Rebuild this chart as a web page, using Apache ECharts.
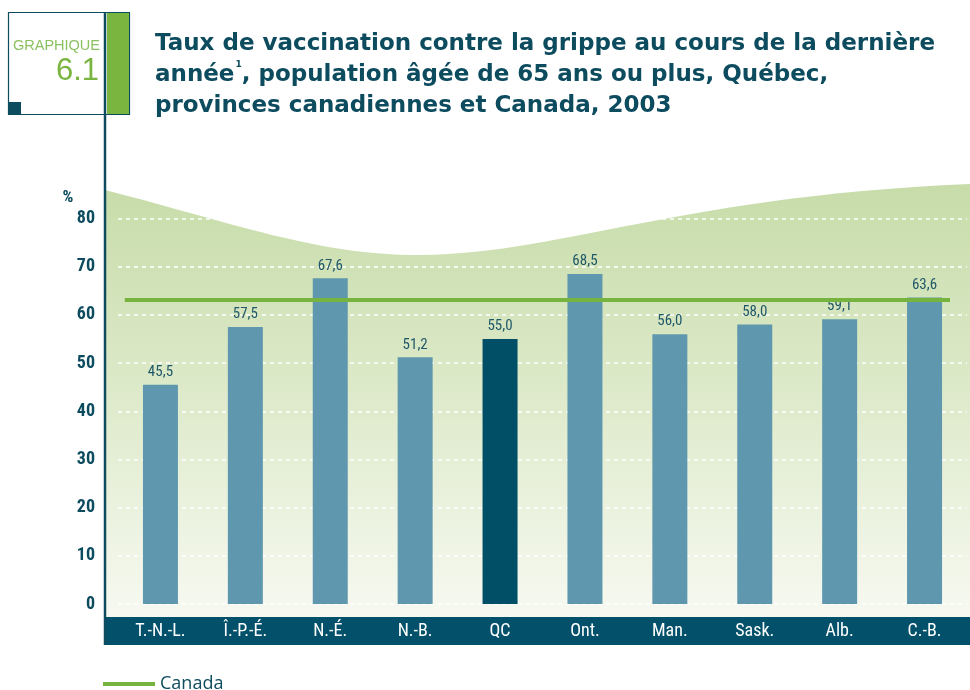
<!DOCTYPE html>
<html>
<head>
<meta charset="utf-8">
<script src="https://cdn.jsdelivr.net/npm/echarts@6/dist/echarts.min.js"></script>
<style>
	html, body { margin: 0; padding: 0; background: #ffffff; }
	#chart { width: 970px; height: 690px; }
</style>
</head>
<body>
<div id="chart"></div>
<script>
// data
var provinces = ['T.-N.-L.', 'Î.-P.-É.', 'N.-É.', 'N.-B.', 'QC', 'Ont.', 'Man.', 'Sask.', 'Alb.', 'C.-B.'];
var rates = [45.5, 57.5, 67.6, 51.2, 55.0, 68.5, 56.0, 58.0, 59.1, 63.6];
var canadaRate = 63.1;
var yTicks = [0, 10, 20, 30, 40, 50, 60, 70, 80];

var teal = '#0d4b5e';
var barBlue = '#5f98ae';
var qcBlue = '#004f66';
var green = '#77b33f';
var narrow = "'Liberation Sans Narrow', 'Roboto Condensed', 'DejaVu Sans Condensed', Roboto, sans-serif";

var chart = echarts.init(document.getElementById('chart'));

// bar items, QC highlighted
var barData = rates.map(function (v, i) {
	return {
		value: v,
		itemStyle: { color: provinces[i] === 'QC' ? qcBlue : barBlue }
	};
});

// decorative wave outline for the background (two cubic curves)
function wavePoints() {
	var segs = [
		[[105, 190], [230, 222], [320, 256], [420, 255]],
		[[420, 255], [560, 254], [680, 196], [970, 184]]
	];
	var pts = [];
	segs.forEach(function (s) {
		for (var k = 0; k <= 30; k++) {
			var t = k / 30, u = 1 - t;
			var x = u * u * u * s[0][0] + 3 * u * u * t * s[1][0] + 3 * u * t * t * s[2][0] + t * t * t * s[3][0];
			var y = u * u * u * s[0][1] + 3 * u * u * t * s[1][1] + 3 * u * t * t * s[2][1] + t * t * t * s[3][1];
			pts.push([x, y]);
		}
	});
	pts.push([970, 617]);
	pts.push([105, 617]);
	return pts;
}

var option = {
	animation: false,
	title: {
		text: 'Taux de vaccination contre la grippe au cours de la dernière\n{t|année}{s|1}{t|, population âgée de 65 ans ou plus, Québec,}\nprovinces canadiennes et Canada, 2003',
		left: 150,
		top: 24,
		textStyle: {
			fontFamily: 'DejaVu Sans',
			fontWeight: 'bold',
			fontSize: 23,
			lineHeight: 31,
			color: teal,
			rich: {
				t: { fontFamily: 'DejaVu Sans', fontWeight: 'bold', fontSize: 23, lineHeight: 31, color: teal },
				s: { fontFamily: 'DejaVu Sans', fontSize: 9, color: teal, verticalAlign: 'top', padding: [0, 0, 12, 1] }
			}
		}
	},
	legend: {
		left: 98,
		top: 670,
		itemWidth: 52,
		itemHeight: 4,
		icon: 'rect',
		itemGap: 10,
		textStyle: { fontFamily: 'Open Sans', fontSize: 18, color: teal },
		data: ['Canada']
	},
	grid: { left: 118, right: 3, top: 218.5, bottom: 86, containLabel: false },
	xAxis: [{
		type: 'category',
		data: provinces,
		axisLine: { show: false },
		axisTick: { show: false },
		axisLabel: {
			color: '#ffffff',
			fontFamily: narrow,
			fontSize: 18,
			margin: 18
		}
	}, {
		type: 'value',
		min: -0.5,
		max: 9.5,
		show: false
	}],
	yAxis: {
		type: 'value',
		min: 0,
		max: 80,
		interval: 10,
		axisLine: { show: false },
		axisTick: { show: false },
		axisLabel: {
			color: teal,
			fontFamily: narrow,
			fontWeight: 'bold',
			fontSize: 18,
			margin: 23,
			formatter: function (v) { return yTicks.indexOf(v) >= 0 ? String(v) : ''; }
		},
		splitLine: {
			show: true,
			lineStyle: { color: '#ffffff', type: [4, 4], width: 1.5 }
		}
	},
	series: [{
		name: 'Taux',
		type: 'bar',
		data: barData,
		barWidth: 35,
		z: 3,
		label: {
			show: true,
			position: 'top',
			distance: 5,
			fontFamily: narrow,
			fontSize: 15,
			color: '#1f5869',
			formatter: function (p) { return p.value.toFixed(1).replace('.', ','); }
		}
	}, {
		name: 'Canada',
		type: 'line',
		xAxisIndex: 1,
		data: [[-0.42, canadaRate], [9.3, canadaRate]],
		symbol: 'none',
		itemStyle: { color: green },
		lineStyle: { color: green, width: 4 },
		z: 4
	}],
	graphic: [
		// green wave background
		{
			type: 'polygon',
			z: -10,
			shape: { points: wavePoints() },
			style: {
				fill: {
					type: 'linear', x: 0, y: 0, x2: 0, y2: 1,
					colorStops: [
						{ offset: 0, color: '#c7dca9' },
						{ offset: 0.45, color: '#dce9c8' },
						{ offset: 1, color: '#f7f9f1' }
					]
				}
			}
		},
		// category strip
		{
			type: 'rect',
			z: -5,
			shape: { x: 105, y: 617, width: 865, height: 28 },
			style: { fill: '#02506a' }
		},
		// unit label
		{
			type: 'text',
			z: 6,
			x: 68,
			y: 198,
			style: {
				text: '%',
				fontFamily: narrow,
				fontWeight: 'bold',
				fontSize: 17,
				fill: teal,
				align: 'center',
				verticalAlign: 'middle'
			}
		},
		// graphique box
		{
			type: 'rect',
			z: 5,
			shape: { x: 8.5, y: 12.5, width: 121, height: 102 },
			style: { fill: 'none', stroke: teal, lineWidth: 1.2 }
		},
		{
			type: 'rect',
			z: 5,
			shape: { x: 107, y: 13, width: 22, height: 101 },
			style: { fill: '#7ab540' }
		},
		{
			type: 'rect',
			z: 6,
			shape: { x: 8, y: 102, width: 13, height: 13 },
			style: { fill: teal }
		},
		{
			type: 'line',
			z: 6,
			shape: { x1: 105, y1: 12, x2: 105, y2: 645 },
			style: { stroke: teal, lineWidth: 2.5 }
		},
		{
			type: 'text',
			z: 6,
			x: 100,
			y: 38,
			style: {
				text: 'GRAPHIQUE',
				fontFamily: 'Liberation Sans',
				fontSize: 14.5,
				fill: '#8cc162',
				align: 'right'
			}
		},
		{
			type: 'text',
			z: 6,
			x: 99,
			y: 56,
			style: {
				text: '6.1',
				fontFamily: 'Liberation Sans',
				fontSize: 31,
				fill: '#7ab540',
				align: 'right'
			}
		}
	]
};

chart.setOption(option);
</script>
</body>
</html>
